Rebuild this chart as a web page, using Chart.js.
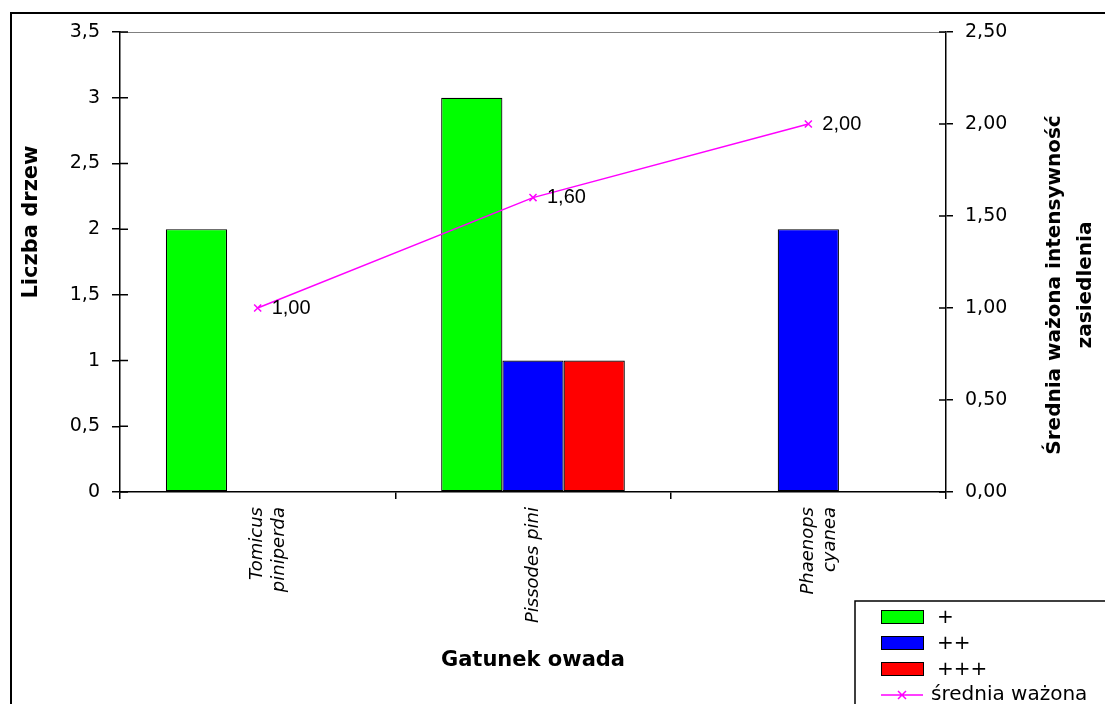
<!DOCTYPE html>
<html>
<head>
<meta charset="utf-8">
<script src="https://cdn.jsdelivr.net/npm/chart.js@4"></script>
<style>
  html, body { margin: 0; padding: 0; background: #fff; }
  canvas { display: block; }
</style>
</head>
<body>
<canvas id="chart" width="1105" height="704"></canvas>
<script>
const categories = [["Tomicus", "piniperda"], "Pissodes pini", ["Phaenops", "cyanea"]];
const seriesNames = ["+", "++", "+++"];
const plusValues = [2, 3, 0];
const plus2Values = [0, 1, 2];
const plus3Values = [0, 1, 0];
const meanName = "średnia ważona";
const meanValues = [1.00, 1.60, 2.00];
const countTicks = [0, 0.5, 1, 1.5, 2, 2.5, 3, 3.5];
const meanTicks = [0, 0.5, 1, 1.5, 2, 2.5];

const tickFont = { family: "DejaVu Sans", size: 19 };
const titleFont = "bold 21px 'DejaVu Sans'";

function comma(v, digits) {
  return (digits == null ? String(v) : v.toFixed(digits)).replace(".", ",");
}

// frame, inner tick marks, titles, value labels and the boxed legend
const extras = {
  id: "extras",
  beforeDatasetsDraw(chart) {
    const ctx = chart.ctx;
    const a = chart.chartArea;
    ctx.save();
    ctx.strokeStyle = "#808080";
    ctx.lineWidth = 1;
    ctx.beginPath();
    ctx.moveTo(a.left, a.top + 0.5);
    ctx.lineTo(a.right, a.top + 0.5);
    ctx.stroke();
    ctx.restore();
  },
  afterDraw(chart) {
    const ctx = chart.ctx;
    const a = chart.chartArea;
    const W = chart.width, H = chart.height;
    ctx.save();

    // outer frame
    ctx.strokeStyle = "#000";
    ctx.lineWidth = 2;
    ctx.beginPath();
    ctx.moveTo(11, H);
    ctx.lineTo(11, 13);
    ctx.lineTo(W, 13);
    ctx.stroke();

    // tick marks reaching into the plot
    ctx.lineWidth = 1.5;
    const y = chart.scales.y, y1 = chart.scales.y1;
    ctx.beginPath();
    countTicks.forEach(v => {
      const p = y.getPixelForValue(v);
      ctx.moveTo(a.left, p);
      ctx.lineTo(a.left + 8, p);
    });
    meanTicks.forEach(v => {
      const p = y1.getPixelForValue(v);
      ctx.moveTo(a.right - 7, p);
      ctx.lineTo(a.right, p);
    });
    ctx.stroke();

    // value labels on the line
    const meta = chart.getDatasetMeta(3);
    ctx.fillStyle = "#000";
    ctx.font = "20px 'Liberation Sans'";
    ctx.textAlign = "left";
    ctx.textBaseline = "middle";
    meta.data.forEach((pt, i) => {
      ctx.fillText(comma(meanValues[i], 2), pt.x + 14, pt.y);
    });

    // axis titles
    ctx.font = titleFont;
    ctx.textAlign = "center";
    ctx.save();
    ctx.translate(32, 222);
    ctx.rotate(-Math.PI / 2);
    ctx.fillText("Liczba drzew", 0, 0);
    ctx.restore();

    ctx.font = "bold 20px 'DejaVu Sans'";
    ctx.save();
    ctx.translate(1055, 285);
    ctx.rotate(-Math.PI / 2);
    ctx.fillText("Średnia ważona intensywność", 0, 0);
    ctx.fillText("zasiedlenia", 0, 31);
    ctx.restore();

    ctx.font = titleFont;
    ctx.fillText("Gatunek owada", (a.left + a.right) / 2, 661);

    // legend
    const lx = 855, ly = 601;
    ctx.lineWidth = 1.5;
    ctx.strokeStyle = "#000";
    ctx.beginPath();
    ctx.moveTo(lx, H);
    ctx.lineTo(lx, ly);
    ctx.lineTo(W, ly);
    ctx.stroke();

    ctx.font = "20px 'DejaVu Sans'";
    ctx.textAlign = "left";
    chart.data.datasets.forEach((ds, i) => {
      const cy = ly + 16 + i * 26;
      if (ds.type === "line") {
        ctx.strokeStyle = ds.borderColor;
        ctx.lineWidth = 1.5;
        ctx.beginPath();
        ctx.moveTo(881, cy);
        ctx.lineTo(923, cy);
        ctx.moveTo(898, cy - 4);
        ctx.lineTo(906, cy + 4);
        ctx.moveTo(898, cy + 4);
        ctx.lineTo(906, cy - 4);
        ctx.stroke();
        ctx.fillText(ds.label, 931, cy);
      } else {
        ctx.fillStyle = ds.backgroundColor;
        ctx.fillRect(881, cy - 7, 42, 13);
        ctx.strokeStyle = "#000";
        ctx.lineWidth = 1;
        ctx.strokeRect(881.5, cy - 6.5, 42, 13);
        ctx.fillStyle = "#000";
        ctx.fillText(ds.label, 937, cy + 1);
      }
    });

    ctx.restore();
  }
};

function barSet(label, data, color) {
  return {
    type: "bar",
    label: label,
    data: data,
    backgroundColor: color,
    borderColor: "#000",
    borderWidth: 1.2,
    borderSkipped: false,
    categoryPercentage: 0.667,
    barPercentage: 1.0,
    yAxisID: "y",
    order: 1
  };
}

new Chart(document.getElementById("chart"), {
  data: {
    labels: categories,
    datasets: [
      barSet(seriesNames[0], plusValues, "#00FF00"),
      barSet(seriesNames[1], plus2Values, "#0000FF"),
      barSet(seriesNames[2], plus3Values, "#FF0000"),
      {
        type: "line",
        label: meanName,
        data: meanValues,
        yAxisID: "y1",
        borderColor: "#FF00FF",
        borderWidth: 1.5,
        pointStyle: "crossRot",
        pointRadius: 5,
        pointBorderColor: "#FF00FF",
        pointBorderWidth: 1.5,
        fill: false,
        tension: 0,
        order: 0
      }
    ]
  },
  options: {
    responsive: false,
    animation: false,
    layout: { padding: { top: 32, left: 0, right: 0, bottom: 0 } },
    plugins: { legend: { display: false }, tooltip: { enabled: false } },
    scales: {
      x: {
        afterFit: s => { s.height = 212; },
        border: { display: true, color: "#000", width: 1.5 },
        grid: { offset: true, drawOnChartArea: false, tickLength: 7, color: "#000", lineWidth: 1.5 },
        ticks: {
          minRotation: 90, maxRotation: 90, autoSkip: false, padding: 8, color: "#000",
          font: { family: "DejaVu Sans", size: 18, style: "italic" }
        }
      },
      y: {
        position: "left",
        min: 0, max: 3.5,
        afterBuildTicks: s => { s.ticks = countTicks.map(v => ({ value: v })); },
        afterFit: s => { s.width = 120; },
        border: { display: true, color: "#000", width: 1.5 },
        grid: { drawOnChartArea: false, tickLength: 8, color: "#000", lineWidth: 1.5 },
        ticks: { padding: 12, color: "#000", font: tickFont, callback: v => comma(v) }
      },
      y1: {
        position: "right",
        min: 0, max: 2.5,
        afterBuildTicks: s => { s.ticks = meanTicks.map(v => ({ value: v })); },
        afterFit: s => { s.width = 159; },
        border: { display: true, color: "#000", width: 1.5 },
        grid: { drawOnChartArea: false, tickLength: 7, color: "#000", lineWidth: 1.5 },
        ticks: { padding: 12, color: "#000", font: tickFont, callback: v => comma(v, 2) }
      }
    }
  },
  plugins: [extras]
});
</script>
</body>
</html>
